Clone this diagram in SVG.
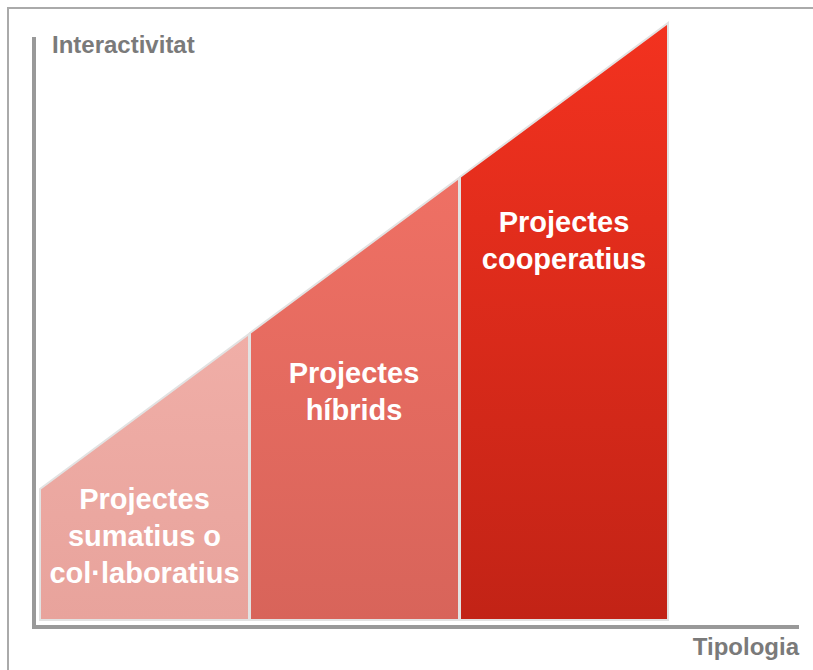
<svg xmlns="http://www.w3.org/2000/svg" width="813" height="670" viewBox="0 0 813 670">
<defs>
<linearGradient id="g1" x1="0" y1="0" x2="0" y2="1"><stop offset="0" stop-color="#F0AEA7"/><stop offset="1" stop-color="#E8A39C"/></linearGradient>
<linearGradient id="g2" x1="0" y1="0" x2="0" y2="1"><stop offset="0" stop-color="#EF7064"/><stop offset="1" stop-color="#D8645A"/></linearGradient>
<linearGradient id="g3" x1="0" y1="0" x2="0" y2="1"><stop offset="0" stop-color="#F3321F"/><stop offset="1" stop-color="#C22316"/></linearGradient>
<style>
.lbl{font-family:"Liberation Sans",Arial,sans-serif;font-weight:bold;font-size:29px;fill:#fff;text-anchor:middle}
.ax{font-family:"Liberation Sans",Arial,sans-serif;font-weight:bold;font-size:24px;fill:#7a7a7a}
.shape{stroke:#e2e2e2;stroke-width:2}
</style>
</defs>
<rect x="0" y="0" width="813" height="670" fill="#fff"/>
<rect x="8" y="8" width="830" height="690" fill="none" stroke="#aaa" stroke-width="2"/>
<g id="connectors">
<line x1="34" y1="37" x2="34" y2="629" stroke="#999" stroke-width="4"/>
<line x1="32" y1="627" x2="799" y2="627" stroke="#999" stroke-width="4"/>
</g>
<g id="node1">
<polygon class="shape" points="40,489 249,334 249,620 40,620" fill="url(#g1)"/>
<text class="lbl" x="144.5" y="509">Projectes</text>
<text class="lbl" x="144.5" y="546">sumatius o</text>
<text class="lbl" x="144.5" y="583">col·laboratius</text>
</g>
<g id="node2">
<polygon class="shape" points="250,333 459,178 459,620 250,620" fill="url(#g2)"/>
<text class="lbl" x="354" y="383">Projectes</text>
<text class="lbl" x="354" y="420">híbrids</text>
</g>
<g id="node3">
<polygon class="shape" points="460,177 668,23 668,620 460,620" fill="url(#g3)"/>
<text class="lbl" x="564" y="232">Projectes</text>
<text class="lbl" x="564" y="269">cooperatius</text>
</g>
<text class="ax" x="52" y="53">Interactivitat</text>
<text class="ax" x="799" y="655" text-anchor="end">Tipologia</text>
</svg>
